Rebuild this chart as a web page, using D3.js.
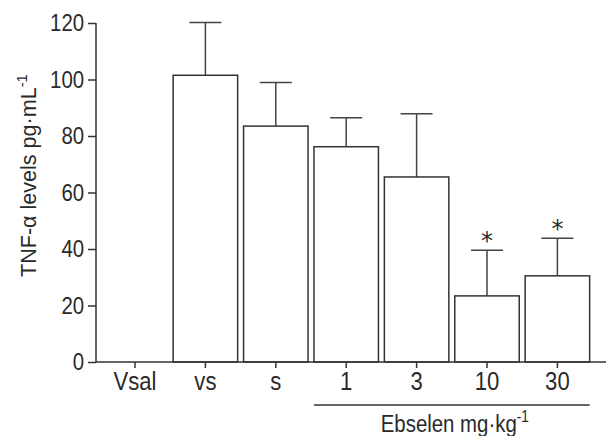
<!DOCTYPE html>
<html>
<head>
<meta charset="utf-8">
<script src="https://d3js.org/d3.v7.min.js"></script>
<style>
  body { margin: 0; background: #fff; }
  svg text { font-family: "Liberation Sans", Arial, sans-serif; fill: #2a2a2a; }
  .axis path, .axis line { stroke: #333; stroke-width: 1.5px; }
</style>
</head>
<body>
<div id="chart"></div>
<script>
// groups on the x axis
var groups = ["Vsal", "vs", "s", "1", "3", "10", "30"];
// mean TNF-alpha levels (pg/mL) and upper error
var means = [0, 101.5, 83.5, 76.2, 65.5, 23.4, 30.5];
var errTop = [0, 120.2, 98.9, 86.5, 87.9, 39.6, 43.8];
var signif = [false, false, false, false, false, true, true];
var yTicks = [0, 20, 40, 60, 80, 100, 120];

var W = 607, H = 436;
var narrow = "scale(0.85,1)";   // fake a condensed face
var svg = d3.select("#chart").append("svg").attr("width", W).attr("height", H);

var x = d3.scaleBand().domain(groups).range([96, 596.4])
  .paddingInner(0.084).paddingOuter(0.096);
var y = d3.scaleLinear().domain([0, 120]).range([362, 23]);

// y axis
var yAx = svg.append("g").attr("class", "axis")
  .attr("transform", "translate(96,0)")
  .call(d3.axisLeft(y).tickValues(yTicks).tickSize(8).tickPadding(6).tickSizeOuter(0));
yAx.select(".domain").remove();
yAx.append("line").attr("x1", 0).attr("x2", 0).attr("y1", y(120)).attr("y2", y(0))
  .attr("stroke", "#333").attr("stroke-width", 1.5);
yAx.selectAll("text").style("font-size", "24px").attr("fill", "#2a2a2a")
  .attr("transform", narrow);

// bars
var bars = svg.append("g");
groups.forEach(function(g, i) {
  if (means[i] <= 0) return;
  var cx = x(g) + x.bandwidth() / 2;
  // error bar
  bars.append("line").attr("x1", cx).attr("x2", cx)
    .attr("y1", y(means[i])).attr("y2", y(errTop[i]))
    .attr("stroke", "#444").attr("stroke-width", 1.5);
  bars.append("line").attr("x1", cx - 16).attr("x2", cx + 16)
    .attr("y1", y(errTop[i])).attr("y2", y(errTop[i]))
    .attr("stroke", "#444").attr("stroke-width", 1.5);
  bars.append("rect")
    .attr("x", x(g)).attr("y", y(means[i]))
    .attr("width", x.bandwidth()).attr("height", y(0) - y(means[i]))
    .attr("fill", "#fff").attr("stroke", "#333").attr("stroke-width", 1.5);
  if (signif[i]) {
    bars.append("text").attr("x", cx).attr("y", y(errTop[i]) - 1)
      .attr("text-anchor", "middle")
      .style("font-family", "'DejaVu Sans', sans-serif")
      .style("font-size", "24px").attr("fill", "#333").text("*");
  }
});

// x axis
var xAx = svg.append("g").attr("class", "axis")
  .attr("transform", "translate(0,362)")
  .call(d3.axisBottom(x).tickSize(6).tickPadding(4).tickSizeOuter(0));
xAx.select(".domain").remove();
xAx.append("line").attr("x1", 96).attr("x2", 606).attr("y1", 0).attr("y2", 0)
  .attr("stroke", "#333").attr("stroke-width", 1.5);
xAx.selectAll(".tick text").style("font-size", "26px").attr("fill", "#2a2a2a")
  .attr("transform", narrow);

// Ebselen bracket
var x0 = x("1"), x1 = x("30") + x.bandwidth();
svg.append("line").attr("x1", x0).attr("x2", x1).attr("y1", 405).attr("y2", 405)
  .attr("stroke", "#333").attr("stroke-width", 1.5);
var eb = svg.append("text")
  .attr("transform", "translate(" + ((x0 + x1) / 2 + 3) + ",432) " + narrow)
  .attr("text-anchor", "middle").style("font-size", "24px");
eb.append("tspan").text("Ebselen mg\u00b7kg");
eb.append("tspan").attr("dy", -10).style("font-size", "16px").text("-1");

// y label
var yl = svg.append("text")
  .attr("transform", "translate(36,277) rotate(-90) scale(0.98,1)")
  .attr("text-anchor", "start").style("font-size", "22px");
yl.append("tspan").text("TNF-\u03b1 levels pg\u00b7mL");
yl.append("tspan").attr("dy", -9).style("font-size", "15px").text("-1");
</script>
</body>
</html>
